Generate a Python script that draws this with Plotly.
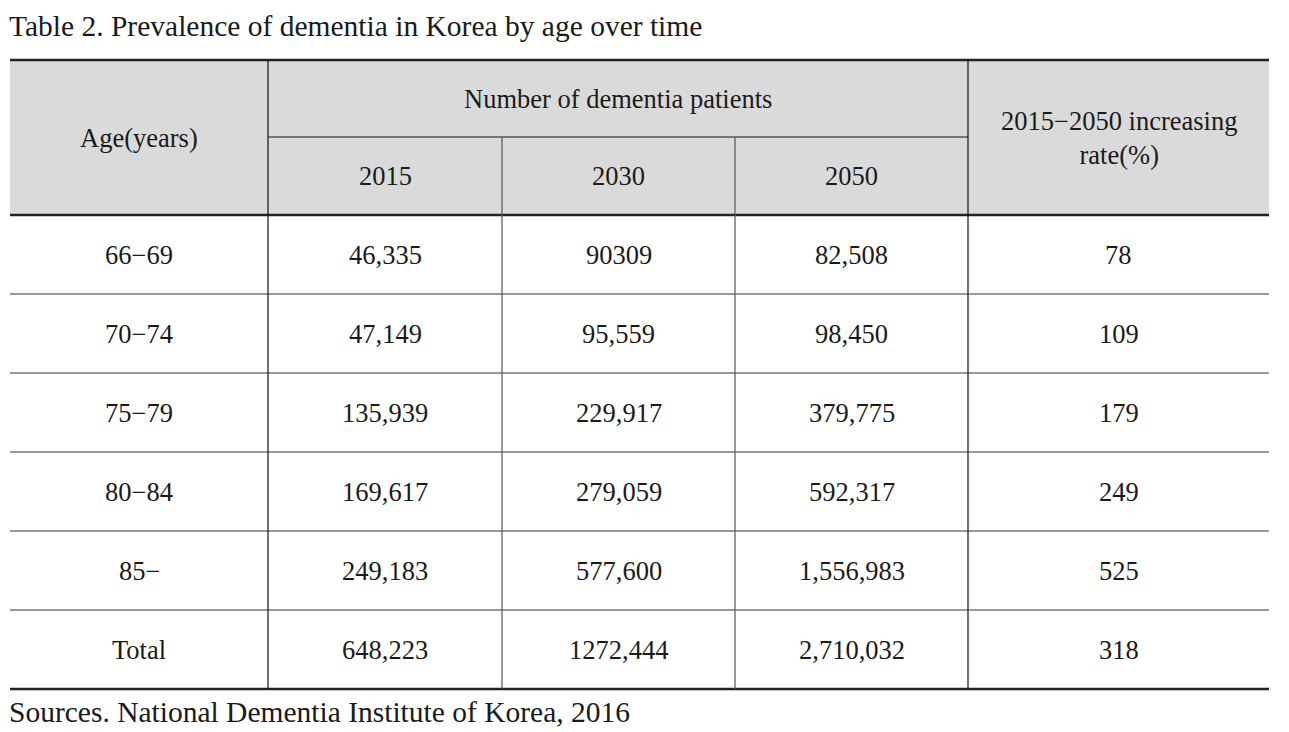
import plotly.graph_objects as go

title = "Table 2. Prevalence of dementia in Korea by age over time"
source = "Sources. National Dementia Institute of Korea, 2016"
ages = ["66−69", "70−74", "75−79", "80−84", "85−", "Total"]
years = ["2015", "2030", "2050"]
n2015 = ["46,335", "47,149", "135,939", "169,617", "249,183", "648,223"]
n2030 = ["90309", "95,559", "229,917", "279,059", "577,600", "1272,444"]
n2050 = ["82,508", "98,450", "379,775", "592,317", "1,556,983", "2,710,032"]
rate = ["78", "109", "179", "249", "525", "318"]
head_age = "Age(years)"
head_num = "Number of dementia patients"
head_rate = "2015−2050 increasing<br>rate(%)"

W, H = 1289, 732
OFF = 8  # page body margin in the browser
FONT = "Liberation Serif"
FS = 26.5
FS_BIG = 29.5
col_x = [10, 268, 502, 735, 968, 1269]
top = 60
h1 = 137
h2 = 215
row_h = 79
n_rows = len(ages)
bottom = h2 + row_h * n_rows
header_fill = "#dadada"

shapes = []
ann = []

def line(x0, y0, x1, y1, color, width):
    shapes.append(dict(type="line", xref="x", yref="y", x0=x0, y0=y0, x1=x1, y1=y1,
                       line=dict(color=color, width=width)))

def text(x, y, s, size=FS, xanchor="center", yanchor="middle"):
    ann.append(dict(x=x, y=y, xref="x", yref="y", text=s, showarrow=False,
                    xanchor=xanchor, yanchor=yanchor, borderpad=0,
                    font=dict(family=FONT, size=size, color="#1a1a1a")))

# header background
shapes.append(dict(type="rect", xref="x", yref="y", x0=col_x[0], x1=col_x[-1], y0=top, y1=h2,
                   fillcolor=header_fill, line=dict(width=0), layer="below"))

# horizontal lines
for i in range(1, n_rows):
    y = h2 + i * row_h
    line(col_x[0], y, col_x[-1], y, "#333", 1)
line(col_x[1], h1, col_x[4], h1, "#555", 1.5)
line(col_x[0], top, col_x[-1], top, "#222", 2.5)
line(col_x[0], h2, col_x[-1], h2, "#222", 2.5)
line(col_x[0], bottom, col_x[-1], bottom, "#222", 2.5)

# vertical lines
line(col_x[1], top, col_x[1], bottom, "#111", 1.2)
line(col_x[4], top, col_x[4], bottom, "#111", 1.2)
line(col_x[2], h1, col_x[2], bottom, "#555", 1.2)
line(col_x[3], h1, col_x[3], bottom, "#555", 1.2)

centers = [(col_x[i] + col_x[i + 1]) / 2 for i in range(5)]

# header text
text(centers[0], (top + h2) / 2, head_age)
text((col_x[1] + col_x[4]) / 2, (top + h1) / 2, head_num)
for i, yr in enumerate(years):
    text(centers[i + 1], (h1 + h2) / 2, yr)
text(centers[4], (top + h2) / 2, head_rate)

# body
cols = [ages, n2015, n2030, n2050, rate]
for r in range(n_rows):
    yc = h2 + row_h * (r + 0.5)
    for c, col in enumerate(cols):
        text(centers[c], yc, col[r])

# title and source
text(col_x[0] - 2, OFF + 0.5, title, size=FS_BIG, xanchor="left", yanchor="top")
text(col_x[0] - 2, 712, source, size=FS_BIG, xanchor="left")

fig = go.Figure()
fig.update_layout(
    width=W, height=H, margin=dict(l=0, r=0, t=0, b=0),
    paper_bgcolor="white", plot_bgcolor="white",
    xaxis=dict(range=[OFF, W + OFF], visible=False, fixedrange=True),
    yaxis=dict(range=[H + OFF, OFF], visible=False, fixedrange=True),
    shapes=shapes, annotations=ann, showlegend=False,
)
fig.write_html("out.html")
